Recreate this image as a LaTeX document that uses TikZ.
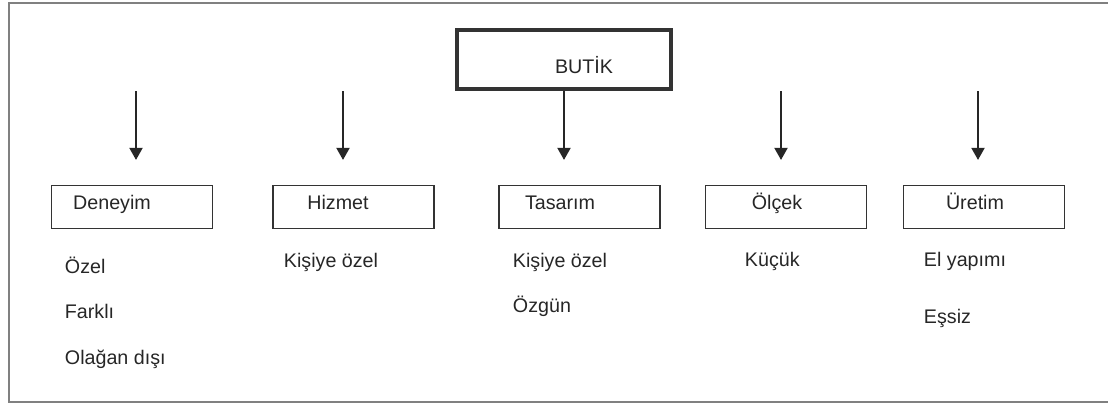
\documentclass[tikz,border=0pt]{standalone}
\usepackage{fontspec}
\setmainfont{Liberation Sans}
\usetikzlibrary{arrows.meta}
\tikzset{every picture/.style={x=0.025cm,y=-0.025cm}}

\begin{document}
\begin{tikzpicture}[
    kutu/.style={draw=black!80, line width=0.85pt, minimum width=4.025cm, minimum height=1.075cm},
    yazi/.style={anchor=base, text=black!85, font=\fontsize{14}{16}\selectfont},
    madde/.style={anchor=base west, text=black!85, font=\fontsize{14}{16}\selectfont},
    ok/.style={draw=black!85, line width=0.9pt, -{Triangle[width=0.33cm,length=0.3cm]}, shorten >=0.625cm}
]
    % Page and outer frame
    \useasboundingbox (0,0) rectangle (1108,407);
    \draw[black!50, line width=1.1pt] (1120,3) -- (9,3) -- (9,402) -- (1120,402);

    % Main box
    \node[kutu, line width=2.8pt, minimum width=5.35cm, minimum height=1.475cm] (butik) at (564,59.5) {};
    \node[yazi] (butik-t) at (584,74) {BUTİK};

    % Category boxes
    \foreach \nm/\bx/\tx/\txt in {deneyim/132/112/Deneyim, hizmet/353.5/338/Hizmet,
        tasarim/579.5/560/Tasarım, olcek/786/777/Ölçek, uretim/984/975/Üretim} {
        \node[kutu] (\nm) at (\bx,207) {};
        \node[yazi] (\nm-t) at (\tx,209) {\txt};
    }

    % Arrows
    \foreach \nm/\ax in {deneyim/136, hizmet/343, olcek/781, uretim/978} {
        \coordinate (\nm-ok) at (\ax,91);
        \draw[ok] (\nm-ok) -- (\nm-ok |- \nm.north);
    }
    \draw[ok] (butik.south) -- (butik.south |- tasarim.north);

    % Items under each box
    \foreach \tx/\ty/\txt [count=\i] in {60/273/Özel, 60/318/Farklı, 60/364/Olağan dışı,
        279/267/Kişiye özel, 508/267/Kişiye özel, 508/312/Özgün,
        740/266/Küçük, 919/266/El yapımı, 919/323/Eşsiz} {
        \node[madde] (madde-\i) at (\tx,\ty) {\txt};
    }
\end{tikzpicture}
\end{document}
